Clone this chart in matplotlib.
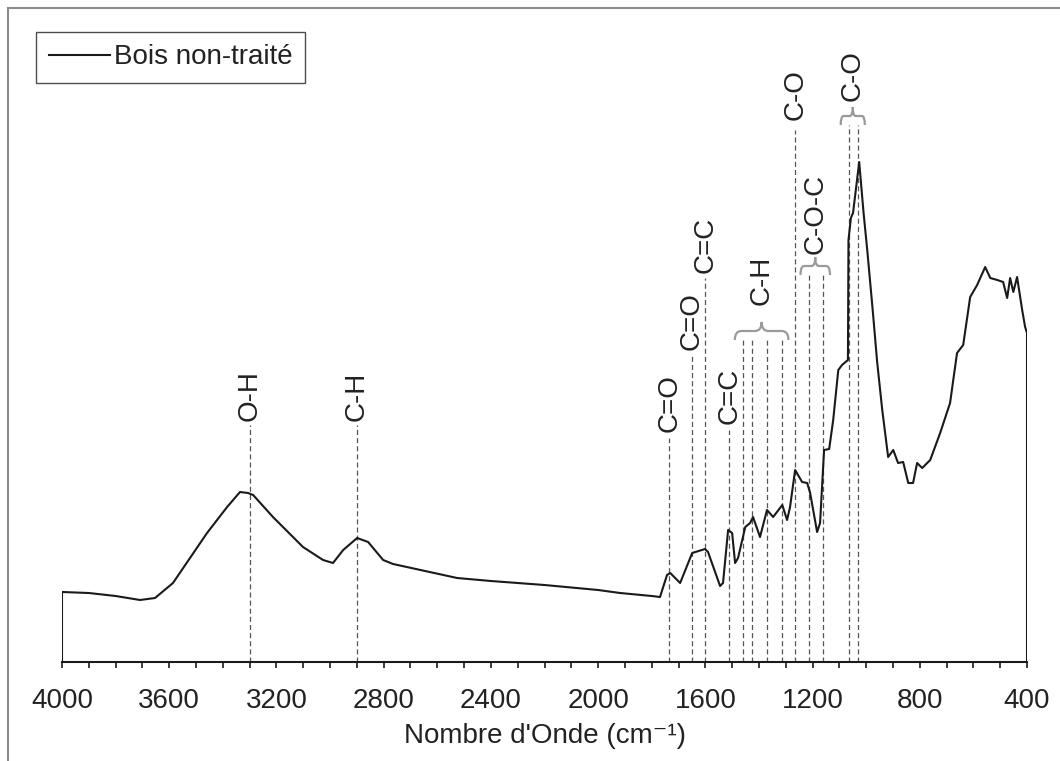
"""FTIR spectrum of untreated wood with band assignments."""

import matplotlib

matplotlib.use("Agg")
import matplotlib.pyplot as plt
import numpy as np
from matplotlib.patches import PathPatch, Rectangle
from matplotlib.path import Path
from matplotlib.ticker import MultipleLocator

# spectrum (absorbance in arbitrary units)
wavenumber = [
    4000, 4000, 3900, 3800, 3709, 3653, 3586, 3459, 3384, 3336, 3306, 3287,
    3213, 3101, 3026, 2989, 2951, 2899, 2858, 2802, 2765, 2526, 2400, 2200,
    2000, 1918, 1800, 1769, 1743, 1731, 1694, 1649, 1601, 1590, 1545, 1534,
    1515, 1500, 1489, 1478, 1451, 1433, 1422, 1396, 1370, 1347, 1313, 1295,
    1284, 1265, 1239, 1220, 1209, 1183, 1172, 1157, 1138, 1123, 1104, 1090,
    1068, 1066, 1057, 1049, 1026, 1010, 996, 975, 959, 940, 918, 899, 881,
    862, 843, 825, 810, 791, 761, 724, 687, 661, 638, 612, 586, 556, 537,
    511, 489, 474, 463, 451, 437, 418, 407, 400, 400,
]
absorbance = [
    0, 70, 69, 66, 62, 64, 79, 129, 155, 170, 169, 167,
    145, 115, 102, 99, 112, 124, 120, 102, 98, 84, 81, 77,
    72, 69, 66, 65, 87, 89, 79, 109, 113, 110, 76, 79,
    132, 129, 99, 104, 135, 139, 145, 125, 152, 145, 157, 142,
    155, 192, 180, 179, 169, 130, 139, 212, 213, 242, 292, 297,
    302, 422, 444, 449, 500, 450, 412, 350, 300, 252, 205, 212, 199,
    200, 179, 179, 199, 194, 202, 229, 259, 309, 317, 365, 377, 395, 384,
    382, 380, 364, 384, 370, 385, 352, 335, 329, 0,
]

# band assignments: label and the wavenumbers it covers
band_labels = ["O-H", "C-H", "C=O", "C=O", "C=C", "C=C", "C-H", "C-O", "C-O-C", "C-O"]
band_positions = [
    [3300], [2900], [1735], [1650], [1600], [1510],
    [1460, 1425, 1370, 1315], [1265], [1215, 1160], [1065, 1030],
]

# layout of the annotations (same units as absorbance)
line_tops = [237, 237, 224, 306, 384, 232, 322, 532, 387, 537]
label_bottoms = [241, 241, 230, 312, 389, 238, 357, 542, 408, 561]

W, H = 1060, 761
fig = plt.figure(figsize=(W / 100, H / 100), dpi=100)
plt.rcParams["font.family"] = ["Liberation Sans", "DejaVu Sans"]
txt = "#222222"

# outer chart frame
fig.add_artist(Rectangle((8 / W, -0.1), 1.2, 1.1 - 8 / H, transform=fig.transFigure,
                         fill=False, edgecolor="#8c8c8c", linewidth=1.5))

ax = fig.add_axes([62 / W, (H - 662) / H, 965 / W, 652 / H])
ax.set_xlim(4000, 400)
ax.set_ylim(0, 652)

ax.plot(wavenumber, absorbance, color="#1a1a1a", linewidth=1.5,
        label="Bois non-traité", zorder=3)


def brace(ax, x_hi, x_lo, y, d, color="#9a9a9a"):
    """Horizontal curly bracket opening downward, tip pointing up."""
    xc = 0.5 * (x_hi + x_lo)
    r = 0.25 * (x_hi - x_lo) * 0.5
    verts = [
        (x_hi, y - d), (x_hi, y), (x_hi - r, y),
        (xc + r, y), (xc, y), (xc, y + d),
        (xc, y), (xc - r, y),
        (x_lo + r, y), (x_lo, y), (x_lo, y - d),
    ]
    codes = [Path.MOVETO, Path.CURVE3, Path.CURVE3,
             Path.LINETO, Path.CURVE3, Path.CURVE3,
             Path.CURVE3, Path.CURVE3,
             Path.LINETO, Path.CURVE3, Path.CURVE3]
    ax.add_patch(PathPatch(Path(verts, codes), facecolor="none",
                           edgecolor=color, linewidth=1.6, zorder=2))


for label, pos, top, lab_y in zip(band_labels, band_positions, line_tops, label_bottoms):
    for p in pos:
        ax.plot([p, p], [0, top], color="#555555", linewidth=0.9,
                linestyle=(0, (4, 2.5)), zorder=1)
    if len(pos) > 1:
        x_hi, x_lo = max(pos) + 30, min(pos) - 25
        brace(ax, x_hi, x_lo, top + 9, 9)
        xc = 0.5 * (x_hi + x_lo)
    else:
        xc = pos[0]
    ax.text(xc, lab_y, label, rotation=90, ha="center", va="bottom",
            fontsize=20, color=txt)

for side in ("left", "right", "top"):
    ax.spines[side].set_visible(False)
ax.spines["bottom"].set_linewidth(1.5)
ax.spines["bottom"].set_color("#1a1a1a")
ax.set_yticks([])
ax.xaxis.set_major_locator(MultipleLocator(400))
ax.xaxis.set_minor_locator(MultipleLocator(100))
ax.tick_params(axis="x", which="both", direction="out", length=4.5, width=1.2,
               color="#1a1a1a")
ax.tick_params(axis="x", which="major", labelsize=20, labelcolor=txt, pad=14)
ax.set_xlabel("Nombre d'Onde (cm⁻¹)", fontsize=20, color=txt, labelpad=7)

leg = ax.legend(loc="upper left", bbox_to_anchor=(36 / W, 1 - 32 / H),
                bbox_transform=fig.transFigure, borderaxespad=0, fontsize=20,
                handlelength=2.2, handletextpad=0.15, borderpad=0.45,
                fancybox=False, framealpha=1, labelcolor=txt)
leg.get_frame().set_edgecolor("#4d4d4d")
leg.get_frame().set_linewidth(1.0)

fig.savefig("out.png", dpi=100)
